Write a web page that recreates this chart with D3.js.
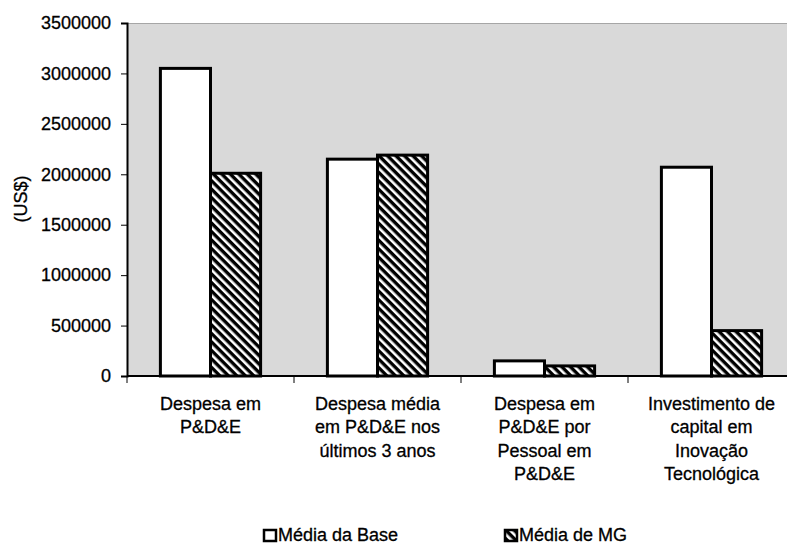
<!DOCTYPE html>
<html>
<head>
<meta charset="utf-8">
<script src="https://cdn.jsdelivr.net/npm/d3@7"></script>
<style>
  html, body { margin: 0; padding: 0; background: #fff; }
  svg { display: block; font-family: "Liberation Sans", Arial, sans-serif; }
  svg text { stroke: #000; stroke-width: 0.3px; }
</style>
</head>
<body>
<svg id="chart" width="787" height="545"></svg>
<script>
// Categories (label lines) and the two series, in US$
const categories = [
  ["Despesa em", "P&D&E"],
  ["Despesa média", "em P&D&E nos", "últimos 3 anos"],
  ["Despesa em", "P&D&E por", "Pessoal em", "P&D&E"],
  ["Investimento de", "capital em", "Inovação", "Tecnológica"]
];
const seriesNames = ["Média da Base", "Média de MG"];
const baseValues = [3050000, 2150000, 150000, 2070000];
const mgValues = [2010000, 2190000, 100000, 450000];
const yTicks = [0, 500000, 1000000, 1500000, 2000000, 2500000, 3000000, 3500000];

const svg = d3.select("#chart");
const plotLeft = 127, plotRight = 795, plotTop = 23, plotBottom = 376;

const catKeys = categories.map((c, i) => i);
const x = d3.scaleBand().domain(catKeys).range([plotLeft, plotRight])
  .paddingInner(0.4).paddingOuter(0.2);
const xs = d3.scaleBand().domain([0, 1]).range([0, x.bandwidth()]);
const y = d3.scaleLinear().domain([0, 3500000]).range([plotBottom, plotTop]);

// Diagonal hatch: black ground with white "\" stripes
const period = 6;
const defs = svg.append("defs");
const pat = defs.append("pattern")
  .attr("id", "hatch")
  .attr("patternUnits", "userSpaceOnUse")
  .attr("width", period).attr("height", period)
  .attr("patternTransform", "rotate(-45)");
pat.append("rect").attr("width", period).attr("height", period).attr("fill", "#000");
pat.append("rect").attr("x", 0).attr("width", 2.6).attr("height", period).attr("fill", "#fff");

// Plot background
svg.append("rect")
  .attr("x", plotLeft).attr("y", plotTop)
  .attr("width", plotRight - plotLeft).attr("height", plotBottom - plotTop)
  .attr("fill", "#d9d9d9");
svg.append("line")
  .attr("x1", plotLeft).attr("x2", plotRight).attr("y1", plotTop + 0.5).attr("y2", plotTop + 0.5)
  .attr("stroke", "#a6a6a6").attr("stroke-width", 1);

// Bars
const rows = catKeys.map(i => ({ i, vals: [baseValues[i], mgValues[i]] }));
const groups = svg.append("g").selectAll("g").data(rows).join("g")
  .attr("transform", d => `translate(${x(d.i)},0)`);
groups.selectAll("rect").data(d => d.vals.map((v, s) => ({ v, s }))).join("rect")
  .attr("x", d => xs(d.s))
  .attr("y", d => y(d.v))
  .attr("width", xs.bandwidth())
  .attr("height", d => y(0) - y(d.v))
  .attr("fill", d => d.s === 0 ? "#fff" : "url(#hatch)")
  .attr("stroke", "#000")
  .attr("stroke-width", 3);

// Y axis
const yAxis = d3.axisLeft(y).tickValues(yTicks).tickFormat(d3.format("d"))
  .tickSize(6).tickPadding(10);
const gy = svg.append("g").attr("transform", `translate(${plotLeft},0)`).call(yAxis);
gy.select(".domain").attr("stroke", "#000").attr("stroke-width", 2);
gy.selectAll(".tick line").attr("stroke", "#000").attr("stroke-width", 1);
gy.selectAll(".tick text").attr("font-size", 18).attr("fill", "#000")
  .attr("font-family", "Liberation Sans, Arial, sans-serif");

// X axis: baseline with ticks at category boundaries
svg.append("line")
  .attr("x1", plotLeft).attr("x2", plotRight).attr("y1", plotBottom).attr("y2", plotBottom)
  .attr("stroke", "#000").attr("stroke-width", 2);
const bounds = catKeys.map(i => x(i) - x.step() * x.paddingInner() / 2).concat([plotRight]);
svg.append("g").selectAll("line").data(bounds).join("line")
  .attr("x1", d => d).attr("x2", d => d)
  .attr("y1", plotBottom).attr("y2", plotBottom + 7)
  .attr("stroke", "#000").attr("stroke-width", 1);

// Category labels
const labels = svg.append("g").attr("font-size", 18).attr("fill", "#000")
  .attr("text-anchor", "middle");
labels.selectAll("text").data(catKeys).join("text")
  .attr("x", i => x(i) + x.bandwidth() / 2)
  .attr("y", 410)
  .each(function (i) {
    d3.select(this).selectAll("tspan").data(categories[i]).join("tspan")
      .attr("x", x(i) + x.bandwidth() / 2)
      .attr("dy", (d, k) => k === 0 ? 0 : 23.3)
      .text(d => d);
  });

// Y axis title
svg.append("text")
  .attr("transform", "translate(27,199) rotate(-90)")
  .attr("text-anchor", "middle")
  .attr("font-size", 18).attr("fill", "#000")
  .text("(US$)");

// Legend
const legendX = [263, 504];
const legend = svg.append("g").selectAll("g").data(seriesNames).join("g")
  .attr("transform", (d, i) => `translate(${legendX[i]},0)`);
legend.append("rect")
  .attr("x", 1).attr("y", 530).attr("width", 12).attr("height", 11)
  .attr("fill", (d, i) => i === 0 ? "#fff" : "url(#hatch)")
  .attr("stroke", "#000").attr("stroke-width", 2.5);
legend.append("text")
  .attr("x", 15).attr("y", 541)
  .attr("font-size", 18).attr("fill", "#000")
  .text(d => d);
</script>
</body>
</html>
